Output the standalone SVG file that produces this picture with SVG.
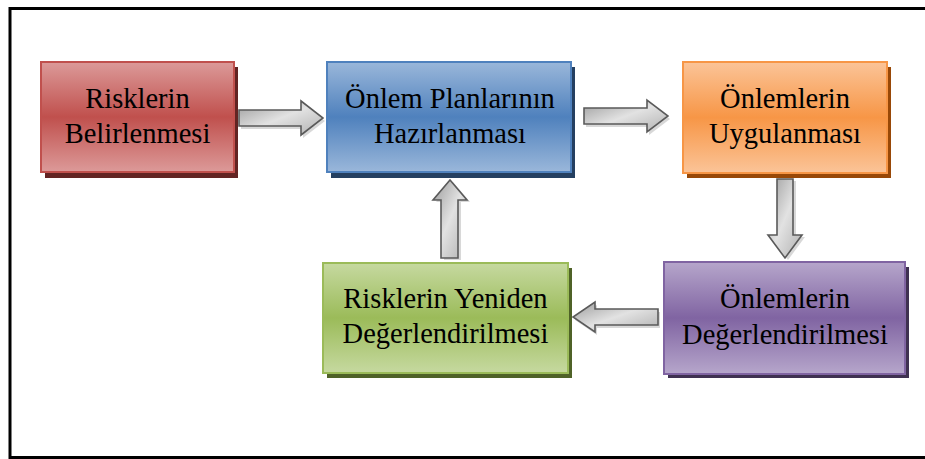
<svg xmlns="http://www.w3.org/2000/svg" width="925" height="459" viewBox="0 0 925 459">
<style>
.frame{fill:none;stroke:#000;stroke-width:3}
.box{stroke-width:2}
.lbl{font-family:"Liberation Serif","Times New Roman",serif;font-size:28.5px;fill:#000;text-anchor:middle}
.arr{fill:url(#gArr);stroke:#5a5a5a;stroke-width:1.6;stroke-linejoin:miter}
.arrsh{fill:#c8c8c8;opacity:0.7}
</style>
<defs>
<linearGradient id="gRed" x1="0" y1="0" x2="0" y2="1"><stop offset="0" stop-color="#dc9a99"/><stop offset="0.5" stop-color="#c0504d"/><stop offset="1" stop-color="#dc9a99"/></linearGradient>
<linearGradient id="gBlue" x1="0" y1="0" x2="0" y2="1"><stop offset="0" stop-color="#9ab7da"/><stop offset="0.5" stop-color="#4f81bd"/><stop offset="1" stop-color="#9ab7da"/></linearGradient>
<linearGradient id="gOrange" x1="0" y1="0" x2="0" y2="1"><stop offset="0" stop-color="#fbc498"/><stop offset="0.5" stop-color="#f79646"/><stop offset="1" stop-color="#fbc498"/></linearGradient>
<linearGradient id="gGreen" x1="0" y1="0" x2="0" y2="1"><stop offset="0" stop-color="#c6d9a0"/><stop offset="0.5" stop-color="#9bbb59"/><stop offset="1" stop-color="#c6d9a0"/></linearGradient>
<linearGradient id="gPurple" x1="0" y1="0" x2="0" y2="1"><stop offset="0" stop-color="#b6a6cb"/><stop offset="0.5" stop-color="#8064a2"/><stop offset="1" stop-color="#b6a6cb"/></linearGradient>
<linearGradient id="gArr" x1="0" y1="0" x2="1" y2="1"><stop offset="0" stop-color="#9a9a9a"/><stop offset="0.5" stop-color="#e2e2e2"/><stop offset="1" stop-color="#b0b0b0"/></linearGradient>
</defs>
<rect class="frame" x="10" y="8.5" width="1000" height="449"/>
<g id="connectors">
<path class="arrsh" d="M241,113 H303 V104 L325,121 L303,138 V129 H241 Z"/>
<path class="arr" d="M239,110 H301 V101 L323,118 L301,135 V126 H239 Z"/>
<path class="arrsh" d="M586,111 H649 V103 L670,119 L649,135 V127 H586 Z"/>
<path class="arr" d="M584,108 H647 V100 L668,116 L647,132 V124 H584 Z"/>
<path class="arrsh" d="M780,181 V237 H771 L788,260 L805,237 H796 V181 Z"/>
<path class="arr" d="M777,179 V235 H768 L785,258 L802,235 H793 V179 Z"/>
<path class="arrsh" d="M660,312 H597 V305 L575,320 L597,335 V328 H660 Z"/>
<path class="arr" d="M658,309 H595 V302 L573,317 L595,332 V325 H658 Z"/>
<path class="arrsh" d="M444,260 V202 H436 L453,182 L470,202 H461 V260 Z"/>
<path class="arr" d="M441,258 V200 H433 L450,180 L467,200 H458 V258 Z"/>
</g>
<g id="n1">
<rect x="45" y="67" width="193" height="111" fill="#622423"/>
<rect class="box" x="41" y="62" width="193" height="110" fill="url(#gRed)" stroke="#c0504d"/>
<text class="lbl" x="137.5" y="108">Risklerin</text>
<text class="lbl" x="137.5" y="143">Belirlenmesi</text>
</g>
<g id="n2">
<rect x="331" y="67" width="244" height="111" fill="#243f60"/>
<rect class="box" x="327" y="62" width="244" height="110" fill="url(#gBlue)" stroke="#4f81bd"/>
<text class="lbl" x="450" y="108">Önlem Planlarının</text>
<text class="lbl" x="450" y="143">Hazırlanması</text>
</g>
<g id="n3">
<rect x="687" y="67" width="204" height="111" fill="#984807"/>
<rect class="box" x="683" y="62" width="204" height="111" fill="url(#gOrange)" stroke="#f79646"/>
<text class="lbl" x="785" y="108">Önlemlerin</text>
<text class="lbl" x="785" y="143">Uygulanması</text>
</g>
<g id="n4">
<rect x="668" y="267" width="241" height="111" fill="#3f3151"/>
<rect class="box" x="664" y="262" width="241" height="112" fill="url(#gPurple)" stroke="#8064a2"/>
<text class="lbl" x="785" y="308">Önlemlerin</text>
<text class="lbl" x="785" y="344">Değerlendirilmesi</text>
</g>
<g id="n5">
<rect x="327" y="268" width="245" height="110" fill="#4f6228"/>
<rect class="box" x="323" y="263" width="245" height="110" fill="url(#gGreen)" stroke="#9bbb59"/>
<text class="lbl" x="445.5" y="308">Risklerin Yeniden</text>
<text class="lbl" x="445.5" y="343">Değerlendirilmesi</text>
</g>
</svg>
